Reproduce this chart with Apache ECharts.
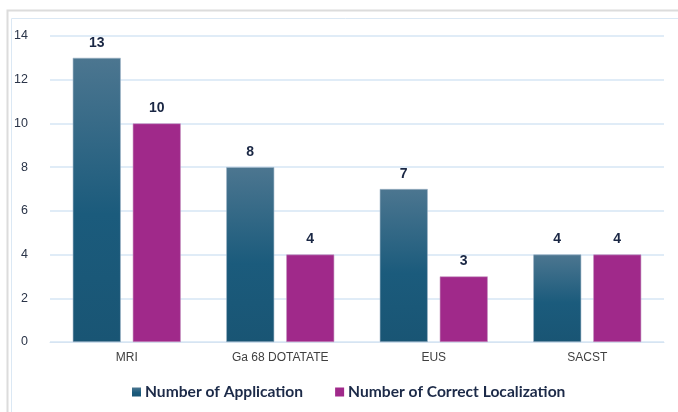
<!DOCTYPE html>
<html><head><meta charset="utf-8">
<script src="https://cdn.jsdelivr.net/npm/echarts@6/dist/echarts.min.js"></script>
<style>html,body{margin:0;padding:0;background:#fff}#c{width:678px;height:412px}</style>
</head><body><div id="c"></div>
<script>
const categories = ['MRI', 'Ga 68 DOTATATE', 'EUS', 'SACST'];
const applications = [13, 8, 7, 4];
const correctLocalization = [10, 4, 3, 4];
const seriesNames = ['Number of Application', 'Number of Correct Localization'];

const chart = echarts.init(document.getElementById('c'));
chart.setOption({
  animation: false,
  graphic: [
    {type:'rect', shape:{x:7.5,y:10.5,width:700,height:420}, style:{fill:'none', stroke:'#dcdcdc', lineWidth:2}},
    {type:'rect', shape:{x:11.5,y:18.5,width:700,height:420}, style:{fill:'none', stroke:'#dbe8f4', lineWidth:1}}
  ],
  grid: {left: 50, right: 14, top: 36, bottom: 70, containLabel: false},
  legend: {
    bottom: 7, left: 127, itemWidth: 9, itemHeight: 9, itemGap: 32,
    icon: 'rect',
    itemStyle: {borderWidth: 0},
    textStyle: {fontFamily: 'Lato', fontWeight: 'bold', fontSize: 15.6, color: '#1c2a48', padding: [0, 0, 0, -1]},
    data: seriesNames
  },
  xAxis: {
    type: 'category', data: categories,
    axisLine: {show: true, lineStyle: {color: '#d6e4f2'}},
    axisTick: {show: false},
    axisLabel: {color: '#404040', fontFamily: 'Liberation Sans', fontSize: 12, margin: 10}
  },
  yAxis: {
    type: 'value', min: 0, max: 14, interval: 2,
    axisLabel: {color: '#2a3448', fontFamily: 'Liberation Sans', fontSize: 12.5, margin: 22},
    splitLine: {lineStyle: {color: '#d6e6f4', width: 1.5}}
  },
  series: [
    {
      name: seriesNames[0], type: 'bar', data: applications,
      barWidth: 48, barGap: '25%',
      itemStyle: {
        color: new echarts.graphic.LinearGradient(0,0,0,1,[
          {offset:0,color:'#4c7690'},{offset:0.55,color:'#1b5b7c'},{offset:1,color:'#195574'}]),
        borderColor: '#9db4c6', borderWidth: 0.6
      },
      label: {show: true, position: 'top', distance: 8, fontFamily: 'Liberation Sans', fontWeight: 'bold', fontSize: 14, color: '#1a2744'}
    },
    {
      name: seriesNames[1], type: 'bar', data: correctLocalization,
      barWidth: 48,
      itemStyle: {color: '#a0298a', borderColor: '#c596bf', borderWidth: 0.6},
      label: {show: true, position: 'top', distance: 8, fontFamily: 'Liberation Sans', fontWeight: 'bold', fontSize: 14, color: '#1a2744'}
    }
  ]
});
</script></body></html>
